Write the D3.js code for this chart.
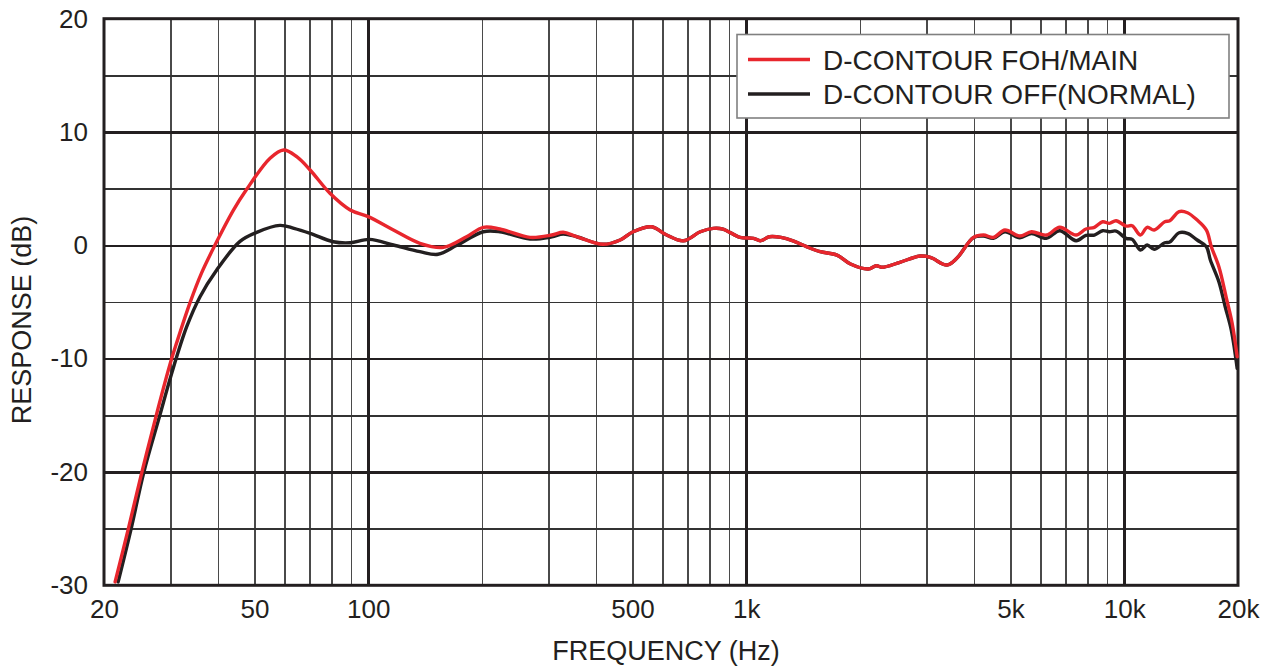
<!DOCTYPE html>
<html>
<head>
<meta charset="utf-8">
<script src="https://cdn.jsdelivr.net/npm/d3@7"></script>
<style>
  body { margin: 0; background: #fff; }
  svg text { font-family: "Liberation Sans", Arial, sans-serif; fill: #231f20; }
  .grid line { shape-rendering: crispEdges; }
  .grid .domain { display: none; }
</style>
</head>
<body>
<div id="chart"></div>
<script>
// frequency response
var freqMain = [21.4, 23.2, 25.2, 27.5, 29.9, 31.1, 33.8, 36.2, 39.3, 44, 47.6, 55, 59.7, 64.7, 70.2, 79.2, 89.6, 100, 116.6, 137,
  158, 182, 201.6, 223, 268, 306, 328, 356, 418, 464, 502, 562, 616, 682, 756, 818, 868, 963, 1046, 1090, 1152, 1236, 1330,
  1444, 1570, 1738, 1888, 2102, 2210, 2290, 2550, 2886, 3070, 3397, 3606, 3994, 4244, 4507, 4836, 5294, 5686, 6222, 6752,
  7460, 7920, 8340, 8768, 9136, 9516, 10116, 10500, 11040, 11500, 12000, 12800, 13200, 13970, 14700, 15600, 16500, 17000,
  17800, 18600, 19300, 19900];
var dbMain = [-29.7, -25, -20, -15, -10.5, -8.65, -5.03, -2.47, 0, 3.1, 4.9, 7.68, 8.41, 7.82, 6.65, 4.59, 3.12, 2.53, 1.35, 0.18,
  -0.18, 0.76, 1.59, 1.44, 0.7, 0.91, 1.15, 0.76, 0.09, 0.47, 1.2, 1.64, 0.91, 0.4, 1.2, 1.5, 1.44, 0.7, 0.62, 0.4, 0.76, 0.7, 0.4,
  -0.12, -0.56, -0.86, -1.65, -2.09, -1.8, -1.94, -1.5, -0.94, -1.06, -1.74, -1.15, 0.7, 0.91, 0.7, 1.35, 0.82, 1.2, 0.91, 1.59,
  0.91, 1.44, 1.59, 2.08, 1.94, 2.17, 1.7, 1.73, 0.91, 1.59, 1.35, 2.08, 2.17, 2.97, 2.88, 2.23, 1.35, -0.12,
  -1.89, -4.54, -6.88, -9.83];

var freqNormal = [21.8, 23.6, 25.5, 28.1, 30.2, 33.1, 35.9, 39.7, 45.8, 50.7, 58.4, 63.6, 70.2, 80.8, 89.6, 100.8, 116.6, 137,
  153, 171.6, 201.6, 223, 268, 306, 328, 356, 418, 464, 502, 562, 616, 682, 756, 818, 868, 963, 1046, 1090, 1152, 1236, 1330,
  1444, 1570, 1738, 1888, 2102, 2210, 2290, 2550, 2886, 3070, 3397, 3606, 3994, 4244, 4507, 4836, 5294, 5686, 6222, 6752,
  7460, 7920, 8340, 8768, 9136, 9516, 10116, 10500, 11040, 11500, 12000, 12800, 13200, 13970, 14700, 15600, 16500, 16900,
  17800, 18500, 19200, 19900];
var dbNormal = [-29.7, -25, -20, -15, -11.3, -7.18, -4.53, -2.2, 0.35, 1.15, 1.76, 1.5, 1.06, 0.32, 0.23, 0.53, 0.03, -0.56,
  -0.79, 0, 1.2, 1.2, 0.56, 0.75, 1.0, 0.76, 0.09, 0.47, 1.2, 1.64, 0.91, 0.4, 1.2, 1.5, 1.44, 0.7, 0.62, 0.4, 0.76, 0.7, 0.4,
  -0.12, -0.56, -0.86, -1.65, -2.09, -1.8, -1.94, -1.5, -0.94, -1.06, -1.74, -1.15, 0.7, 0.82, 0.62, 1.2, 0.67, 1.05, 0.62, 1.29,
  0.41, 0.88, 0.91, 1.29, 1.2, 1.26, 0.62, 0.53, -0.41, 0.03, -0.35, 0.23, 0.29, 1.11, 1.06, 0.47, -0.12, -1.3,
  -3.21, -5.42, -7.48, -10.86];

var seriesNames = ["D-CONTOUR FOH/MAIN", "D-CONTOUR OFF(NORMAL)"];
var seriesColors = ["#e8262d", "#231f20"];

var xTickValues = [20, 50, 100, 500, 1000, 5000, 10000, 20000];
var xTickLabels = ["20", "50", "100", "500", "1k", "5k", "10k", "20k"];
var xMajorGrid = [100, 1000, 10000];
var xMinorGrid = [30, 40, 50, 60, 70, 80, 90, 200, 300, 400, 500, 600, 700, 800, 900,
  2000, 3000, 4000, 5000, 6000, 7000, 8000, 9000];
var yTickValues = [20, 10, 0, -10, -20, -30];
var yTickLabels = ["20", "10", "0", "-10", "-20", "-30"];
var yMajorGrid = [10, 0, -10, -20];
var yMinorGrid = [15, 5, -5, -15, -25];

var svgWidth = 1276, svgHeight = 670;
var margin = {top: 18.7, right: 38, bottom: 84.7, left: 104};
var width = svgWidth - margin.left - margin.right;
var height = svgHeight - margin.top - margin.bottom;

var svg = d3.select('#chart').append('svg')
  .attr('width', svgWidth)
  .attr('height', svgHeight);

var g = svg.append('g')
  .attr('transform', 'translate(' + margin.left + ',' + margin.top + ')');

var x = d3.scaleLog().domain([20, 20000]).range([0, width]);
var y = d3.scaleLinear().domain([-30, 20]).range([height, 0]);

// grid
function vGrid(vals, w, col) {
  g.append('g')
    .attr('class', 'grid')
    .attr('transform', 'translate(0,' + height + ')')
    .call(d3.axisBottom(x).tickValues(vals).tickSize(-height).tickFormat(''))
    .selectAll('line').attr('stroke', col).attr('stroke-width', w);
}
function hGrid(vals, w, col) {
  g.append('g')
    .attr('class', 'grid')
    .call(d3.axisLeft(y).tickValues(vals).tickSize(-width).tickFormat(''))
    .selectAll('line').attr('stroke', col).attr('stroke-width', w);
}
vGrid(xMinorGrid, 1.4, '#4a4a4a');
hGrid(yMinorGrid, 1.4, '#333');
vGrid(xMajorGrid, 2.6, '#231f20');
hGrid(yMajorGrid, 2.6, '#231f20');

// frame
g.append('rect')
  .attr('x', 0).attr('y', 0)
  .attr('width', width).attr('height', height)
  .attr('fill', 'none')
  .attr('stroke', '#231f20')
  .attr('stroke-width', 3);

// tick labels
var xAxis = g.append('g')
  .attr('transform', 'translate(0,' + height + ')')
  .call(d3.axisBottom(x).tickValues(xTickValues).tickSize(0).tickPadding(14)
    .tickFormat(function(d, i) { return xTickLabels[i]; }));
xAxis.select('.domain').remove();
xAxis.selectAll('text').style('font-size', '26px').attr('dy', '0.71em').attr('fill', '#231f20');

var yAxis = g.append('g')
  .call(d3.axisLeft(y).tickValues(yTickValues).tickSize(0).tickPadding(16)
    .tickFormat(function(d, i) { return yTickLabels[i]; }));
yAxis.select('.domain').remove();
yAxis.selectAll('text').style('font-size', '26px').attr('fill', '#231f20');

// axis titles
svg.append('text')
  .attr('x', 666)
  .attr('y', 660)
  .attr('text-anchor', 'middle')
  .style('font-size', '27px')
  .text('FREQUENCY (Hz)');

svg.append('text')
  .attr('transform', 'translate(31,320) rotate(-90)')
  .attr('text-anchor', 'middle')
  .style('font-size', '27px')
  .text('RESPONSE (dB)');

// curves
var line = d3.line()
  .x(function(d) { return x(d[0]); })
  .y(function(d) { return y(d[1]); })
  .curve(d3.curveCatmullRom.alpha(0.5));

var normalData = freqNormal.map(function(f, i) { return [f, dbNormal[i]]; });
var mainData = freqMain.map(function(f, i) { return [f, dbMain[i]]; });

g.append('path')
  .datum(normalData)
  .attr('fill', 'none')
  .attr('stroke', seriesColors[1])
  .attr('stroke-width', 3.4)
  .attr('stroke-linejoin', 'round')
  .attr('stroke-linecap', 'round')
  .attr('d', line);

g.append('path')
  .datum(mainData)
  .attr('fill', 'none')
  .attr('stroke', seriesColors[0])
  .attr('stroke-width', 3.4)
  .attr('stroke-linejoin', 'round')
  .attr('stroke-linecap', 'round')
  .attr('d', line);

// legend
var legend = svg.append('g')
  .attr('transform', 'translate(737,34.5)');
legend.append('rect')
  .attr('width', 492).attr('height', 83.5)
  .attr('fill', '#fff')
  .attr('stroke', '#808080')
  .attr('stroke-width', 1.6);
seriesNames.forEach(function(name, i) {
  var ly = 25 + i * 34.5;
  legend.append('line')
    .attr('x1', 11).attr('x2', 73)
    .attr('y1', ly).attr('y2', ly)
    .attr('stroke', seriesColors[i])
    .attr('stroke-width', 3.4);
  legend.append('text')
    .attr('x', 86).attr('y', ly)
    .attr('dy', '0.36em')
    .style('font-size', '28px')
    .text(name);
});
</script>
</body>
</html>
